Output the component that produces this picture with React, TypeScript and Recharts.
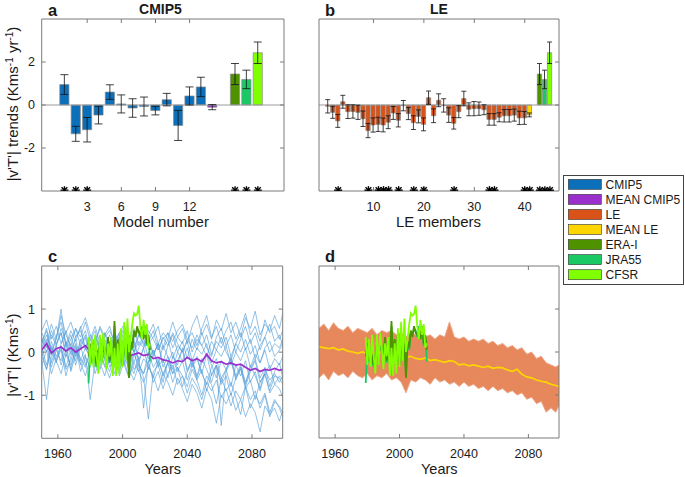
import React from 'react';
import { ComposedChart, Bar, Cell, ErrorBar, XAxis, YAxis, ReferenceLine, Scatter, Line, Area } from 'recharts';

const FONT = '"Liberation Sans", Arial, Helvetica, sans-serif';

const C_CMIP = '#0B6FBA';
const C_MEANCMIP = '#9A2FCC';
const C_LE = '#D95319';
const C_MEANLE = '#FFD500';
const C_ERA = '#4E9200';
const C_JRA = '#18C964';
const C_CFSR = '#80FF00';
const C_BLUE_LINE = '#559FDA';
const AXIS = '#7a7a7a';

// ---------- Panel a: CMIP5 trends ----------
const cmipModelNumbers = [1, 2, 3, 4, 5, 6, 7, 8, 9, 10, 11, 12, 13];
const cmipTrends = [0.95, -1.34, -1.15, -0.47, 0.6, 0.05, -0.14, -0.07, -0.26, 0.25, -0.95, 0.42, 0.84];
const cmipTrendErrors = [0.46, 0.35, 0.57, 0.41, 0.34, 0.42, 0.43, 0.44, 0.2, 0.29, 0.7, 0.42, 0.45];
const cmipMeanPosition = 14;
const cmipMeanTrend = -0.1;
const cmipMeanError = 0.12;
const reanalysisNames = ['ERA-I', 'JRA55', 'CFSR'];
const reanalysisPositionsA = [16, 17, 18];
const reanalysisTrends = [1.44, 1.19, 2.43];
const reanalysisTrendErrors = [0.49, 0.43, 0.5];
const cmipStarPositions = [1, 2, 3, 16, 17, 18];
const modelTicks = [3, 6, 9, 12];
const trendTicks = [-2, 0, 2];

// ---------- Panel b: LE trends ----------
const leMembers = [1, 2, 3, 4, 5, 6, 7, 8, 9, 10, 11, 12, 13, 14, 15, 16, 17, 18, 19, 20, 21, 22, 23, 24, 25, 26, 27, 28, 29, 30, 31, 32, 33, 34, 35, 36, 37, 38, 39, 40];
const leTrends = [-0.06, -0.34, -0.74, 0.15, -0.31, -0.3, -0.34, -0.64, -1.19, -0.93,
  -0.9, -0.93, -0.8, -0.37, -0.71, -0.03, -0.4, -0.82, -0.53, -0.9,
  0.34, -0.5, 0.22, -0.02, -0.47, -0.85, -0.31, 0.3, -0.2, -0.17,
  -0.17, -0.22, -0.67, -0.67, -0.57, -0.5, -0.5, -0.47, -0.6, -0.6];
const leTrendErrors = [0.31, 0.28, 0.3, 0.3, 0.32, 0.31, 0.33, 0.36, 0.33, 0.33,
  0.33, 0.32, 0.3, 0.3, 0.31, 0.24, 0.28, 0.32, 0.3, 0.3,
  0.31, 0.32, 0.3, 0.31, 0.34, 0.27, 0.28, 0.34, 0.3, 0.33,
  0.31, 0.23, 0.27, 0.27, 0.21, 0.29, 0.29, 0.28, 0.31, 0.3];
const leMeanPosition = 41;
const leMeanTrend = -0.46;
const leMeanError = 0.09;
const reanalysisPositionsB = [43, 44, 45];
const leStarPositions = [3, 9, 11, 12, 13, 15, 18, 20, 26, 33, 34, 40, 41, 43, 44, 45];
const leTicks = [10, 20, 30, 40];

// ---------- Panels c, d: time series ----------
const years = [1950, 1953, 1956, 1959, 1962, 1965, 1968, 1971, 1974, 1977, 1980, 1983, 1986, 1989, 1992, 1995, 1998,
  2001, 2004, 2007, 2010, 2013, 2016, 2019, 2022, 2025, 2028, 2031, 2034, 2037, 2040, 2043, 2046, 2049, 2052, 2055,
  2058, 2061, 2064, 2067, 2070, 2073, 2076, 2079, 2082, 2085, 2088, 2091, 2094, 2097, 2099];
const yearTicks = [1960, 2000, 2040, 2080];
const seriesTicks = [-1, 0, 1];

const cmipModelRuns = [
  [0.35, 0.1, 0.5, 0.2, 0.45, 0.0, 0.3, 0.55, 0.15, 0.4, -0.05, 0.3, 0.1, 0.45, 0.2, -0.1, 0.35, 0.15, 0.4, 0.0, 0.25, 0.1, 0.35, -0.1, 0.2, 0.05, 0.3, -0.15, 0.15, 0.0, 0.25, -0.2, 0.1, -0.05, 0.2, -0.25, 0.05, -0.1, 0.15, -0.3, 0.0, -0.2, 0.1, -0.35, -0.05, -0.25, 0.05, -0.4, -0.15, -0.3, -0.1],
  [0.1, -0.3, 0.25, -0.1, 0.15, -0.35, 0.05, 0.3, -0.2, 0.1, -0.15, 0.2, -0.4, 0.0, -0.2, 0.15, -0.35, -0.05, -0.3, 0.05, -0.45, -0.15, -0.3, -0.6, -0.2, -0.5, -0.25, -0.7, -0.35, -0.55, -0.8, -0.4, -0.65, -1.0, -0.55, -0.75, -1.2, -0.6, -0.9, -0.7, -1.05, -1.45, -0.8, -1.1, -0.9, -1.3, -1.0, -1.5, -1.15, -1.25, -1.4],
  [0.2, 0.55, 0.0, 0.35, 0.7, 0.15, 0.5, 0.25, 0.6, 0.05, 0.4, 0.2, 0.55, 0.3, 0.0, 0.45, 0.25, 0.6, 0.1, 0.35, 0.5, 0.15, 0.4, 0.65, 0.2, 0.45, 0.3, 0.7, 0.35, 0.55, 0.2, 0.6, 0.85, 0.4, 0.65, 0.3, 0.75, 0.5, 0.9, 0.45, 0.7, 0.35, 0.8, 0.55, 0.95, 0.4, 0.65, 0.5, 0.85, 0.55, 0.9],
  [-0.1, 0.2, -0.35, 0.05, -0.2, 0.25, -0.45, -0.05, 0.15, -0.3, 0.0, -0.5, -0.15, 0.1, -0.35, -0.1, -0.55, -0.2, 0.05, -0.4, -0.25, -0.6, -1.55, -0.45, -0.3, -0.7, -0.2, -0.5, -0.35, -0.8, -0.45, -0.25, -0.65, -0.4, -0.9, -0.5, -0.3, -0.75, -0.55, -1.0, -0.6, -0.4, -0.85, -0.65, -1.1, -0.7, -0.5, -0.95, -0.75, -0.85, -1.05],
  [0.45, 0.2, 0.65, 0.3, 0.85, 0.4, 0.15, 0.55, 0.35, 0.7, 0.25, 0.5, 0.05, 0.4, 0.6, 0.2, 0.45, 0.1, 0.35, 0.55, 0.15, 0.4, 0.25, 0.5, 0.05, 0.3, 0.45, 0.1, 0.35, 0.2, 0.5, 0.0, 0.3, 0.15, 0.4, -0.05, 0.25, 0.1, 0.35, -0.1, 0.2, 0.45, 0.05, 0.3, -0.15, 0.15, 0.35, 0.0, 0.2, 0.1, 0.3],
  [0.0, -0.4, 0.15, -0.2, 0.05, -0.55, -0.1, 0.2, -0.3, -0.05, -1.1, -0.2, 0.05, -0.35, -0.15, -0.5, -0.1, -0.3, -0.6, -0.25, -0.45, -0.7, -0.35, -0.55, -0.9, -0.5, -0.7, -1.0, -0.6, -0.85, -1.15, -0.75, -0.95, -1.3, -0.85, -1.1, -1.65, -1.0, -1.2, -0.95, -1.35, -1.1, -1.5, -1.2, -1.4, -1.85, -1.25, -1.45, -1.3, -1.6, -1.35],
  [0.2, 0.5, -0.05, 0.3, 1.0, 0.1, 0.4, -0.1, 0.25, 0.5, 0.0, 0.3, -0.2, 0.15, 0.4, -0.1, 0.2, -0.3, 0.05, 0.25, -0.25, 0.1, -0.4, -0.05, 0.2, -0.35, -0.1, -0.5, -0.2, 0.05, -0.45, -0.15, -0.6, -0.25, -0.05, -0.55, -0.3, -0.7, -0.4, -0.15, -0.65, -0.35, -0.8, -0.45, -0.2, -0.7, -0.5, -0.9, -0.55, -0.6, -0.75],
  [-0.2, -1.1, -0.1, 0.15, -0.3, 0.05, -0.4, 0.1, -0.15, -0.35, 0.0, -0.25, 0.2, -0.2, -0.45, -0.05, -0.3, 0.1, -0.25, -0.5, -0.1, -1.3, -0.2, 0.05, -0.35, -0.15, -0.6, -0.1, -0.3, 0.1, -0.4, -0.2, -0.55, -0.15, -0.4, -0.7, -0.3, -1.7, -0.45, -0.2, -0.6, -0.35, -0.75, -0.3, -0.55, -0.85, -0.4, -0.65, -0.5, -0.7, -0.55],
  [0.3, 0.0, 0.4, 0.15, 0.55, 0.25, -0.05, 0.35, 0.5, 0.1, 0.3, 0.6, 0.2, 0.45, 0.05, 0.35, 0.15, 0.5, 0.25, 0.0, 0.4, 0.55, 0.2, 0.35, 0.6, 0.1, 0.45, 0.25, 0.5, 0.65, 0.3, 0.45, 0.15, 0.55, 0.85, 0.35, 0.6, 0.2, 0.5, 0.7, 0.3, 0.55, 0.9, 0.4, 0.6, 0.25, 0.75, 0.45, 0.6, 0.3, 0.5],
  [-0.3, 0.05, -0.5, -0.15, 0.1, -0.4, -0.2, 0.15, -0.45, -0.1, -0.35, 0.05, -0.25, -0.55, -0.1, 0.1, -0.4, -0.2, -0.6, -0.05, -0.3, -0.5, 0.0, -0.35, -0.15, -0.55, -0.25, 0.0, -0.45, -0.2, -0.65, -0.3, -0.1, -0.5, -0.75, -0.35, -0.15, -0.6, -0.4, -0.8, -0.3, -0.55, -0.2, -0.7, -0.45, -0.9, -0.5, -0.3, -0.75, -0.55, -0.65],
  [0.1, 0.4, 0.0, -0.25, 0.2, 0.5, 0.05, -0.2, 0.3, 0.1, -0.1, 0.35, 0.15, -0.15, 0.25, 0.0, 0.4, -0.05, 0.15, -0.25, 0.1, 0.3, -0.15, 0.05, -0.3, 0.15, -0.1, -0.4, 0.0, -0.2, 0.1, -0.35, -0.15, -0.5, -0.05, -0.3, -0.6, -0.2, -0.4, -0.1, -0.55, -0.3, -0.7, -0.4, -0.15, -0.6, -0.35, -0.8, -0.45, -0.25, -0.6],
  [0.5, 0.75, 0.3, 0.6, 0.2, 0.45, 0.7, 0.35, 0.55, 0.8, 0.4, 0.2, 0.6, 0.35, 0.5, 0.25, 0.45, 0.65, 0.3, 0.1, 0.4, 0.2, 0.5, 0.3, 0.05, 0.35, 0.15, 0.45, 0.2, 0.0, 0.3, 0.1, 0.4, 0.15, -0.1, 0.25, 0.05, 0.35, 0.0, -0.2, 0.2, 0.0, 0.3, -0.05, 0.15, -0.25, 0.1, 0.25, -0.1, 0.05, 0.2],
  [-0.1, -0.4, 0.1, -0.2, -0.5, -0.05, -0.3, 0.05, -0.25, -0.55, -0.15, -0.35, 0.0, -0.3, -0.6, -0.2, -0.45, -0.1, -0.4, -0.65, -0.3, -0.5, -0.2, -0.7, -0.45, -0.85, -0.5, -0.3, -0.75, -0.55, -0.95, -0.6, -0.8, -1.1, -0.7, -0.9, -0.65, -1.05, -0.85, -1.25, -0.9, -1.1, -0.8, -1.3, -1.0, -1.2, -0.95, -1.4, -1.1, -1.3, -1.5],
  [0.0, 0.3, -0.25, 0.15, 0.45, -0.1, 0.2, -0.3, 0.1, 0.35, -0.2, 0.05, 0.3, -0.15, 0.2, -0.35, 0.0, 0.25, -0.1, 0.3, -0.2, 0.1, 0.35, -0.05, 0.2, -0.25, 0.15, 0.4, 0.0, 0.25, -0.15, 0.3, 0.05, 0.45, 0.1, -0.1, 0.35, 0.55, 0.15, 0.4, 0.0, 0.3, 0.6, 0.2, 0.45, 0.05, 0.35, 0.65, 0.25, 0.4, 0.15],
];
const cmipMeanSeries = [0.05, 0.2, -0.02, 0.08, 0.12, 0.03, 0.1, 0.0, 0.08, 0.15, 0.02, 0.05, -0.02, 0.03, -0.05, -0.03, -0.08, 0.0, -0.1, -0.05,
  -0.02, -0.08, -0.05, -0.15, -0.12, -0.18, -0.2, -0.25, -0.2, -0.22, -0.12, -0.2, -0.15, -0.22, -0.05, -0.2, -0.25, -0.22, -0.28, -0.25,
  -0.3, -0.28, -0.35, -0.42, -0.38, -0.45, -0.4, -0.42, -0.38, -0.42, -0.4];

const leUpper = [0.55, 0.65, 0.5, 0.68, 0.55, 0.5, 0.6, 0.45, 0.55, 0.5, 0.45, 0.55, 0.4, 0.5, 0.45, 0.5, 0.4, 0.45, 0.35, 0.45,
  0.4, 0.45, 0.35, 0.4, 0.3, 0.4, 0.35, 0.7, 0.35, 0.3, 0.35, 0.25, 0.3, 0.25, 0.3, 0.2, 0.25, 0.15, 0.2, 0.1,
  0.15, 0.05, 0.1, -0.05, 0.0, -0.15, -0.1, -0.25, -0.3, -0.35, -0.3];
const leLower = [-0.6, -0.5, -0.65, -0.45, -0.55, -0.5, -0.6, -0.45, -0.55, -0.6, -0.5, -0.65, -0.55, -0.6, -0.5, -0.65, -0.6, -0.7, -0.95, -0.65,
  -0.7, -0.6, -0.65, -0.75, -0.6, -0.7, -0.65, -0.75, -0.7, -0.8, -0.7, -0.8, -0.75, -0.85, -0.8, -0.9, -0.8, -0.9, -0.85, -0.95,
  -0.9, -1.0, -0.95, -1.1, -1.05, -1.2, -1.15, -1.4, -1.3, -1.4, -1.25];
const leMeanSeries = [0.12, 0.1, 0.08, 0.1, 0.05, 0.07, 0.02, 0.0, -0.03, 0.0, -0.04, -0.02, -0.05, 0.0, -0.03, -0.05, -0.03, -0.08, -0.12, -0.1,
  -0.15, -0.17, -0.14, -0.2, -0.18, -0.21, -0.24, -0.2, -0.22, -0.3, -0.28, -0.32, -0.3, -0.33, -0.36, -0.33, -0.38, -0.36, -0.37, -0.42,
  -0.45, -0.4, -0.52, -0.58, -0.6, -0.65, -0.68, -0.7, -0.75, -0.78, -0.8];

const reanalysisYears = [1979, 1980, 1981, 1982, 1983, 1984, 1985, 1986, 1987, 1988, 1989, 1990, 1991, 1992, 1993, 1994, 1995, 1996, 1997, 1998,
  1999, 2000, 2001, 2002, 2003, 2004, 2005, 2006, 2007, 2008, 2009, 2010, 2011, 2012, 2013, 2014, 2015, 2016, 2017];
const eraSeries = [-0.1, 0.2, -0.2, 0.1, -0.15, -0.3, -0.1, 0.2, -0.2, 0.3, 0.1, -0.15, 0.35, -0.2, 0.1, -0.25, 0.72, -0.2, 0.3, -0.25,
  0.45, -0.3, 0.3, -0.1, 0.2, -0.6, 0.25, 0.1, 0.5, 0.35, 0.6, 0.45, 0.4, 0.55, 0.3, 0.6, 0.2, 0.4, 0.05];
const jraSeries = [-0.72, 0.15, -0.25, 0.05, -0.2, -0.35, -0.05, 0.15, -0.25, 0.25, 0.05, -0.2, 0.3, -0.25, 0.05, -0.3, 0.6, -0.15, 0.25, -0.3,
  0.4, -0.25, 0.25, -0.15, 0.15, -0.5, 0.2, 0.05, 0.45, 0.4, 0.55, 0.5, 0.35, 0.6, 0.35, 0.55, 0.15, 0.35, -0.22];
const cfsrSeries = [0.35, -0.3, 0.3, -0.35, 0.4, -0.1, -0.5, 0.4, -0.3, 0.45, 0.1, -0.4, 0.2, -0.1, 0.35, -0.55, 0.1, -0.55, 0.2, -0.5,
  0.55, -0.35, 0.7, -0.2, 0.78, 0.0, 0.3, 0.65, 0.9, 0.85, 0.88, 1.08, 0.6, 0.3, 0.75, 0.4, 0.65, 0.1, 0.2];

const legendItems = [
  { name: 'CMIP5', color: C_CMIP },
  { name: 'MEAN CMIP5', color: C_MEANCMIP },
  { name: 'LE', color: C_LE },
  { name: 'MEAN LE', color: C_MEANLE },
  { name: 'ERA-I', color: C_ERA },
  { name: 'JRA55', color: C_JRA },
  { name: 'CFSR', color: C_CFSR },
];

// ---------- derived tables ----------
const reanColors = [C_ERA, C_JRA, C_CFSR];
const barsA = [
  ...cmipModelNumbers.map((x, i) => ({ x, v: cmipTrends[i], e: cmipTrendErrors[i] })),
  { x: cmipMeanPosition, v: cmipMeanTrend, e: cmipMeanError },
  ...reanalysisPositionsA.map((x, i) => ({ x, v: reanalysisTrends[i], e: reanalysisTrendErrors[i], name: reanalysisNames[i] })),
];
const colorsA = [...cmipModelNumbers.map(() => C_CMIP), C_MEANCMIP, ...reanColors];
const barsB = [
  ...leMembers.map((x, i) => ({ x, v: leTrends[i], e: leTrendErrors[i] })),
  { x: leMeanPosition, v: leMeanTrend, e: leMeanError },
  ...reanalysisPositionsB.map((x, i) => ({ x, v: reanalysisTrends[i], e: reanalysisTrendErrors[i], name: reanalysisNames[i] })),
];
const colorsB = [...leMembers.map(() => C_LE), C_MEANLE, ...reanColors];
const starsA = cmipStarPositions.map((x) => ({ x, y: -3.96 }));
const starsB = leStarPositions.map((x) => ({ x, y: -3.96 }));

const rowsCD = years.map((year, i) => {
  const r: any = { year, mean: cmipMeanSeries[i], leMean: leMeanSeries[i], band: [leLower[i], leUpper[i]] };
  cmipModelRuns.forEach((run, k) => { r['m' + k] = run[i]; });
  return r;
});
const reanRows = reanalysisYears.map((year, i) => ({ year, era: eraSeries[i], jra: jraSeries[i], cfsr: cfsrSeries[i] }));

const tickStyle = { fill: '#1a1a1a', fontSize: 12.5, fontFamily: FONT };
const blank = () => '';

const Star = (props: any) => {
  const { cx, cy } = props;
  if (cx == null || cy == null) return null;
  const r = 4;
  const d = r * 0.72;
  return (
    <g stroke="#000" strokeWidth={1.4}>
      <line x1={cx - r} y1={cy} x2={cx + r} y2={cy} />
      <line x1={cx} y1={cy - r} x2={cx} y2={cy + r} />
      <line x1={cx - d} y1={cy - d} x2={cx + d} y2={cy + d} />
      <line x1={cx - d} y1={cy + d} x2={cx + d} y2={cy - d} />
    </g>
  );
};

function axes(xDomain: number[], xTicks: number[], xKey: string, yDomain: number[], yTicks: number[], showX: boolean, showY: boolean, leftW: number) {
  return [
    <XAxis key="xb" xAxisId="b" type="number" dataKey={xKey} domain={xDomain} ticks={xTicks} allowDataOverflow
      orientation="bottom" height={20} tickSize={-4} tickMargin={14.7} stroke={AXIS}
      tick={showX ? tickStyle : false} tickFormatter={showX ? undefined : blank} interval={0} />,
    <XAxis key="xt" xAxisId="t" type="number" dataKey={xKey} domain={xDomain} ticks={xTicks} allowDataOverflow
      orientation="top" height={5} tickSize={-4} stroke={AXIS} tickFormatter={blank} interval={0} />,
    <YAxis key="yl" yAxisId="l" type="number" domain={yDomain} ticks={yTicks} allowDataOverflow
      width={leftW} tickSize={-4} tickMargin={10.7} stroke={AXIS}
      tick={showY ? tickStyle : false} tickFormatter={showY ? undefined : blank} interval={0} />,
    <YAxis key="yr" yAxisId="r" orientation="right" type="number" domain={yDomain} ticks={yTicks} allowDataOverflow
      width={5} tickSize={-4} stroke={AXIS} tickFormatter={blank} interval={0} />,
  ];
}

function BarPanel({ data, colors, stars, domain, ticks, showY, leftW, margin, width, barSize, capW }: any) {
  return (
    <ComposedChart width={width} height={230} data={data} margin={margin}>
      {axes(domain, ticks, 'x', [-4, 4], trendTicks, true, showY, leftW)}
      <ReferenceLine y={0} xAxisId="b" yAxisId="l" stroke="#9a9a9a" strokeWidth={1} ifOverflow="hidden" />
      <Bar dataKey="v" xAxisId="b" yAxisId="l" barSize={barSize} stroke="#8a8a8a" strokeWidth={0.7} isAnimationActive={false}>
        {data.map((_: any, i: number) => <Cell key={i} fill={colors[i]} />)}
        <ErrorBar dataKey="e" width={capW} stroke="#111" strokeWidth={0.8} direction="y" />
      </Bar>
      <Scatter data={stars} dataKey="y" xAxisId="b" yAxisId="l" shape={Star} isAnimationActive={false} />
    </ComposedChart>
  );
}

function SeriesPanel({ which, margin, width, leftW }: any) {
  const isC = which === 'c';
  return (
    <ComposedChart width={width} height={257} data={rowsCD} margin={margin}>
      {axes([1950, 2099], yearTicks, 'year', [-2, 2], seriesTicks, true, isC, leftW)}
      {isC
        ? cmipModelRuns.map((_, k) => (
            <Line key={k} xAxisId="b" yAxisId="l" dataKey={'m' + k} stroke={C_BLUE_LINE} strokeOpacity={0.8}
              strokeWidth={0.8} dot={false} isAnimationActive={false} />
          ))
        : <Area xAxisId="b" yAxisId="l" dataKey="band" fill="#E47E4E" fillOpacity={0.92} stroke="#EEA888"
            strokeWidth={1} isAnimationActive={false} dot={false} activeDot={false} />}
      <Line xAxisId="b" yAxisId="l" dataKey={isC ? 'mean' : 'leMean'} stroke={isC ? C_MEANCMIP : C_MEANLE}
        strokeWidth={1.7} dot={false} isAnimationActive={false} />
      <Line data={reanRows} xAxisId="b" yAxisId="l" dataKey="jra" stroke={C_JRA} strokeWidth={1.8} dot={false} isAnimationActive={false} />
      <Line data={reanRows} xAxisId="b" yAxisId="l" dataKey="era" stroke={C_ERA} strokeWidth={1.8} dot={false} isAnimationActive={false} />
      <Line data={reanRows} xAxisId="b" yAxisId="l" dataKey="cfsr" stroke={C_CFSR} strokeWidth={1.8} dot={false} isAnimationActive={false} />
    </ComposedChart>
  );
}

const abs = (left: number, top: number): React.CSSProperties => ({ position: 'absolute', left, top });

export default function App() {
  const sup = (t: string) => <tspan dy={-5.5} fontSize={10}>{t}</tspan>;
  return (
    <div style={{ position: 'absolute', left: 0, top: 0, width: 685, height: 477, background: '#fff', fontFamily: FONT }}>
      <div style={abs(0, 0)}>
        <BarPanel data={barsA} colors={colorsA} stars={starsA} domain={[-1, 20.3]} ticks={modelTicks} showY
          leftW={30} width={300} margin={{ top: 14, right: 11, bottom: 19, left: 11.7 }} barSize={9.2} capW={4} />
      </div>
      <div style={abs(290, 0)}>
        <BarPanel data={barsB} colors={colorsB} stars={starsB} domain={[-0.8, 46.8]} ticks={leTicks} showY={false}
          leftW={5} width={280} margin={{ top: 14, right: 6, bottom: 19, left: 24 }} barSize={4.3} capW={2.5} />
      </div>
      <div style={abs(0, 220)}>
        <SeriesPanel which="c" width={300} leftW={30} margin={{ top: 41, right: 12.3, bottom: 18.7, left: 11.7 }} />
      </div>
      <div style={abs(290, 220)}>
        <SeriesPanel which="d" width={280} leftW={5} margin={{ top: 41, right: 6, bottom: 19, left: 24 }} />
      </div>
      <svg width={685} height={477} style={{ position: 'absolute', left: 0, top: 0, pointerEvents: 'none' }}
        fontFamily={FONT} fill="#1a1a1a">
        <text x={48} y={15.5} fontSize={16.5} fontWeight="bold">a</text>
        <text x={160.5} y={13.5} fontSize={14} fontWeight="bold" textAnchor="middle">CMIP5</text>
        <text x={325} y={15.5} fontSize={16.5} fontWeight="bold">b</text>
        <text x={439} y={13.5} fontSize={14} fontWeight="bold" textAnchor="middle">LE</text>
        <text x={48} y={261.7} fontSize={16.5} fontWeight="bold">c</text>
        <text x={325} y={261.7} fontSize={16.5} fontWeight="bold">d</text>
        <text x={161} y={226.5} fontSize={15} textAnchor="middle">Model number</text>
        <text x={438.5} y={226.5} fontSize={15} textAnchor="middle">LE members</text>
        <text x={162.7} y={473.5} fontSize={14.5} textAnchor="middle">Years</text>
        <text x={439.3} y={473.5} fontSize={14.5} textAnchor="middle">Years</text>
        <text transform="translate(18,104) rotate(-90)" fontSize={15} textAnchor="middle">
          |v'T'| trends (Kms{sup('-1')}<tspan dy={5.5}> yr</tspan>{sup('-1')}<tspan dy={5.5}>)</tspan>
        </text>
        <text transform="translate(18,355) rotate(-90)" fontSize={15} textAnchor="middle">
          |v'T'| (Kms{sup('-1')}<tspan dy={5.5}>)</tspan>
        </text>
        <rect x={563.5} y={175.5} width={120} height={109} fill="#fff" stroke="#444" strokeWidth={1} />
        {legendItems.map((it, i) => {
          const cy = 184.3 + i * 15.07;
          return (
            <g key={it.name}>
              <rect x={568.3} y={cy - 5} width={33} height={10} fill={it.color} stroke="#333" strokeWidth={0.6} />
              <text x={605.5} y={cy + 4.3} fontSize={12}>{it.name}</text>
            </g>
          );
        })}
      </svg>
    </div>
  );
}
